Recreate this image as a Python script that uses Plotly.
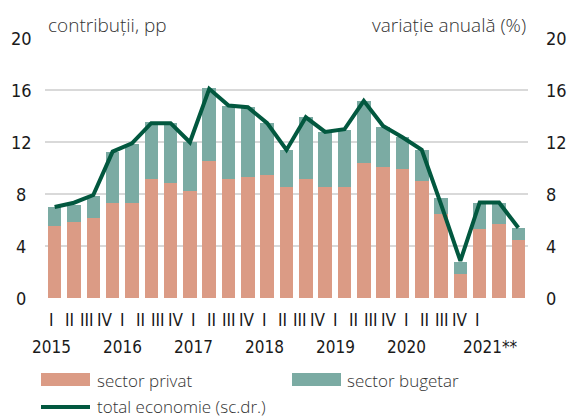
import plotly.graph_objects as go

quarters = ["I", "II", "III", "IV"] * 6 + ["I"]
years = ["2015", "2016", "2017", "2018", "2019", "2020", "2021**"]
x_idx = list(range(25))

sector_privat = [5.55, 5.86, 6.17, 7.27, 7.27, 9.13, 8.82, 8.20, 10.51, 9.13, 9.28, 9.43, 8.51,
                 9.13, 8.51, 8.51, 10.36, 10.05, 9.90, 8.97, 6.50, 1.88, 5.27, 5.73, 4.50]
sector_bugetar = [1.42, 1.29, 1.67, 3.99, 4.58, 4.44, 4.63, 3.83, 5.63, 5.65, 5.40, 4.02, 2.88,
                  4.77, 4.27, 4.42, 4.76, 3.09, 2.46, 2.42, 1.21, 0.90, 2.01, 1.55, 0.90]
total_economie = [7.00, 7.33, 7.92, 11.26, 11.90, 13.45, 13.45, 11.98, 16.09, 14.80, 14.68, 13.45, 11.39,
                  13.90, 12.78, 12.98, 15.17, 13.24, 12.36, 11.40, 7.20, 2.85, 7.35, 7.35, 5.40]
y_ticks = [0, 4, 8, 12, 16, 20]

C_PRIV = "#DB9B85"
C_BUG = "#7BABA3"
C_LINE = "#02583F"
NARROW = "Liberation Sans Narrow, DejaVu Sans Condensed, Arial Narrow, sans-serif"
LIGHT = "Open Sans, Noto Sans, sans-serif"

W, H = 569, 417
L, R, T, B = 45, 41, 38, 119
PW, PH = W - L - R, H - T - B


def px(x):
    return (x - L) / PW


def py(y):
    return (H - B - y) / PH


fig = go.Figure()
fig.add_trace(go.Bar(x=x_idx, y=sector_privat, marker=dict(color=C_PRIV, line=dict(width=0)),
                     name="sector privat", yaxis="y"))
fig.add_trace(go.Bar(x=x_idx, y=sector_bugetar, marker=dict(color=C_BUG, line=dict(width=0)),
                     name="sector bugetar", yaxis="y"))
fig.add_trace(go.Scatter(x=x_idx, y=total_economie, mode="lines",
                         line=dict(color=C_LINE, width=4), name="total economie (sc.dr.)",
                         yaxis="y2"))

ann = []
for v in y_ticks:
    ann.append(dict(x=0, xref="paper", y=v, yref="y", text=str(v), showarrow=False,
                    xanchor="center", yanchor="middle", xshift=-24,
                    font=dict(family=NARROW, size=18, color="#1a1a1a")))
    ann.append(dict(x=1, xref="paper", y=v, yref="y", text=str(v), showarrow=False,
                    xanchor="left", yanchor="middle", xshift=16,
                    font=dict(family=NARROW, size=18, color="#1a1a1a")))

for i, q in enumerate(quarters):
    xp = -0.176 + 0.92 * i
    ann.append(dict(x=xp, xref="x", y=0, yref="paper", text=q, showarrow=False,
                    xanchor="center", yanchor="middle", yshift=-22,
                    font=dict(family=NARROW, size=17, color="#1a1a1a")))
for k, yr in enumerate(years):
    xp = -0.176 + 0.92 * 4 * k
    ann.append(dict(x=xp, xref="x", y=0, yref="paper", text=yr, showarrow=False,
                    xanchor="center" if k < 6 else "left", yanchor="middle", yshift=-49,
                    xshift=0 if k < 6 else -17,
                    font=dict(family=NARROW, size=17, color="#1a1a1a")))

ann.append(dict(x=px(46), xref="paper", y=py(25), yref="paper", text="contribuții, pp",
                showarrow=False, xanchor="left", yanchor="middle",
                font=dict(family=LIGHT, size=19, color="#333333", weight=300)))
ann.append(dict(x=px(528), xref="paper", y=py(25), yref="paper", text="variație anuală (%)",
                showarrow=False, xanchor="right", yanchor="middle",
                font=dict(family=LIGHT, size=19, color="#333333", weight=300)))

for txt, x0, y0 in [("sector privat", 95, 380), ("sector bugetar", 345, 380),
                    ("total economie (sc.dr.)", 95, 406)]:
    ann.append(dict(x=px(x0), xref="paper", y=py(y0), yref="paper", text=txt,
                    showarrow=False, xanchor="left", yanchor="middle",
                    font=dict(family=LIGHT, size=17, color="#333333", weight=300)))

shapes = [
    dict(type="rect", xref="paper", yref="paper", x0=px(41), x1=px(90), y0=py(386), y1=py(373),
         fillcolor=C_PRIV, line=dict(width=0)),
    dict(type="rect", xref="paper", yref="paper", x0=px(292), x1=px(341), y0=py(386), y1=py(373),
         fillcolor=C_BUG, line=dict(width=0)),
    dict(type="line", xref="paper", yref="paper", x0=px(41), x1=px(90), y0=py(407), y1=py(407),
         line=dict(color=C_LINE, width=4)),
]

fig.update_layout(
    width=W, height=H,
    margin=dict(l=L, r=R, t=T, b=B, pad=0),
    paper_bgcolor="white", plot_bgcolor="white",
    barmode="stack", bargap=0.30,
    showlegend=False,
    hovermode=False,
    xaxis=dict(range=[-0.5, 24.5], showticklabels=False, showgrid=False, zeroline=False,
               ticks="", showline=False, fixedrange=True),
    yaxis=dict(range=[0, 20], tickvals=y_ticks, showticklabels=False, showgrid=True,
               gridcolor="#d9d9d9", gridwidth=2, zeroline=False, ticks="", showline=False),
    yaxis2=dict(range=[0, 20], overlaying="y", side="right", showticklabels=False,
                showgrid=False, zeroline=False, ticks="", showline=False),
    annotations=ann,
    shapes=shapes,
)

fig.write_html("out.html", config={"displayModeBar": False},
               post_script="document.body.style.margin='0';document.body.style.overflow='hidden';")
